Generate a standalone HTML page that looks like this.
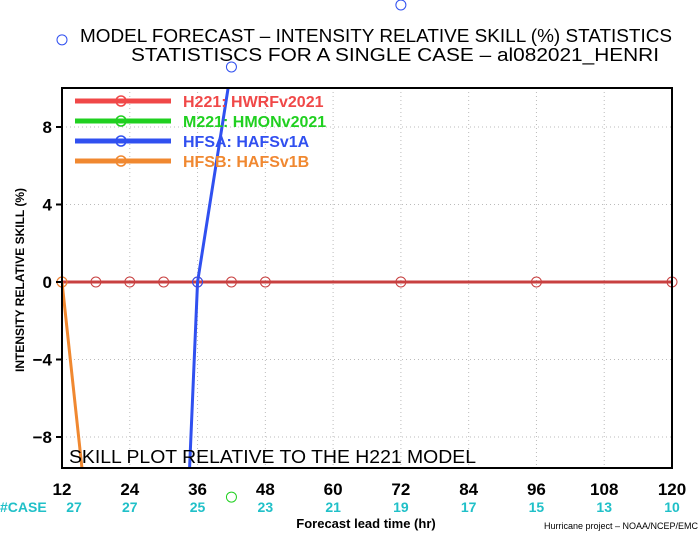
<!DOCTYPE html>
<html><head><meta charset="utf-8"><style>
html,body{margin:0;background:#fff;overflow:hidden;width:700px;height:533px}
svg{display:block;font-family:"Liberation Sans",sans-serif;font-weight:bold}
</style></head><body>
<svg id="chart" width="700" height="533" viewBox="0 0 700 533" xmlns="http://www.w3.org/2000/svg">
<defs><clipPath id="pc"><rect x="62" y="88" width="610" height="380"/></clipPath></defs>
<text x="80" y="42" textLength="592" lengthAdjust="spacingAndGlyphs" font-size="18" font-weight="normal" fill="#000">MODEL FORECAST – INTENSITY RELATIVE SKILL (%) STATISTICS</text>
<text x="131" y="61" textLength="528" lengthAdjust="spacingAndGlyphs" font-size="18" font-weight="normal" fill="#000">STATISTISCS FOR A SINGLE CASE – al082021_HENRI</text>
<g id="grid"></g>
<g id="series" clip-path="url(#pc)"></g>
<g id="markers"></g>
<rect x="62" y="88" width="610" height="380" fill="none" stroke="#000" stroke-width="2"/>
<g id="axes"></g>
<g id="legend"></g>
<text x="69" y="463" textLength="407" lengthAdjust="spacingAndGlyphs" font-size="18" font-weight="normal" fill="#000">SKILL PLOT RELATIVE TO THE H221 MODEL</text>
<text transform="translate(24,280) rotate(-90)" text-anchor="middle" font-size="12" fill="#000">INTENSITY RELATIVE SKILL (%)</text>
<text x="366" y="528" text-anchor="middle" font-size="13" fill="#000">Forecast lead time (hr)</text>
<text x="698" y="529" text-anchor="end" font-size="9" font-weight="normal" fill="#000">Hurricane project – NOAA/NCEP/EMC</text>
<text x="0" y="512" font-size="14" fill="#20c0c8">#CASE</text>
</svg>
<script>
const xTicks=[12,24,36,48,60,72,84,96,108,120];
const yTicks=[8,4,0,-4,-8];
const caseCounts=[27,27,25,23,21,19,17,15,13,10];
const h221Hours=[12,18,24,30,36,42,48,72,96,120];
const h221Vals=[0,0,0,0,0,0,0,0,0,0];
const hfsaHours=[30,36,42,72];
const hfsaVals=[-40.8,0,11.1,14.3];
const hfsaOutHours=[12];
const hfsaOutVals=[12.5];
const m221Hours=[42];
const m221Vals=[-11.1];
const hfsbHours=[12,18];
const hfsbVals=[0,-16.3];
const X=h=>62+(h-12)*(610/108);
const Y=v=>282-v*19.375;
const NS="http://www.w3.org/2000/svg";
function mk(t,a,p){const e=document.createElementNS(NS,t);for(const k in a)e.setAttribute(k,a[k]);p.appendChild(e);return e;}
const grid=document.getElementById('grid'),axes=document.getElementById('axes');
xTicks.forEach((t,i)=>{
  const g=mk('line',{x1:X(t),x2:X(t),y1:88,y2:468,stroke:'#bbb','stroke-dasharray':'1,3'},grid);
  
  
  const tl=mk('text',{x:X(t),y:495,'text-anchor':'middle','font-size':'17',fill:'#000'},axes);
  tl.textContent=t;
  
  
  const c=mk('text',{x:X(t)+(i==0?12:0),y:512,'text-anchor':'middle','font-size':'14',fill:'#20c0c8'},axes);
  c.textContent=caseCounts[i];
  
  
});
yTicks.forEach(v=>{
  const g=mk('line',{x1:62,x2:672,y1:Y(v),y2:Y(v),stroke:'#bbb','stroke-dasharray':'1,3'},grid);
  
  
  const tk=mk('line',{x1:56,x2:62,y1:Y(v),y2:Y(v),stroke:'#000','stroke-width':2},axes);
  
  
  const tl=mk('text',{x:52,y:Y(v)+6,'text-anchor':'end','font-size':'17',fill:'#000'},axes);
  tl.textContent=v==0?'0':(v<0?'−'+(-v):v);
  
  
});
const ser=document.getElementById('series'),mks=document.getElementById('markers');
function drawSeries(name,hs,vs,col){
  const pl=mk('polyline',{points:hs.map((h,i)=>X(h)+','+Y(vs[i])).join(' '),fill:'none',stroke:col,'stroke-width':3},ser);
  
  
  hs.forEach((h,i)=>{
    const c=mk('circle',{cx:X(h),cy:Y(vs[i]),r:5,fill:'none',stroke:col,'stroke-width':1},mks);
    
    
  });
}
drawSeries('h221',h221Hours,h221Vals,'#c84040');
drawSeries('hfsa',hfsaHours,hfsaVals,'#3050f0');
hfsaOutHours.forEach((h,i)=>{
  const c=mk('circle',{cx:X(h),cy:Y(hfsaOutVals[i]),r:5,fill:'none',stroke:'#3050f0','stroke-width':1},mks);
  
  
});
drawSeries('m221',m221Hours,m221Vals,'#20d020');
drawSeries('hfsb',hfsbHours,hfsbVals,'#f08830');
const leg=[['H221: HWRFv2021','#f04848'],['M221: HMONv2021','#20d020'],['HFSA: HAFSv1A','#3050f0'],['HFSB: HAFSv1B','#f08830']];
const lg=document.getElementById('legend');
leg.forEach((l,i)=>{
  const y=101+i*20;
  const ln=mk('line',{x1:75,x2:171,y1:y,y2:y,stroke:l[1],'stroke-width':5},lg);
  
  
  const c=mk('circle',{cx:121,cy:y,r:5,fill:'none',stroke:l[1],'stroke-width':1.5},lg);
  
  
  const t=mk('text',{x:183,y:y+6,'font-size':'16',fill:l[1]},lg);
  t.textContent=l[0];
  
  
});
</script>
</body></html>
